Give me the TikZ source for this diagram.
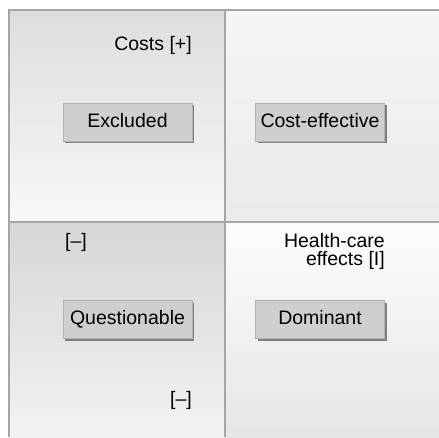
\documentclass[tikz,border=0pt]{standalone}
\usepackage{fontspec}
\setmainfont{Liberation Sans}
\usetikzlibrary{shadows}

\begin{document}
\begin{tikzpicture}[x=1pt,y=-1pt,
  every node/.style={font=\fontsize{19.5}{18}\selectfont},
  field/.style={draw=none},
  frame/.style={draw=black!35,line width=1.6pt},
  category/.style={rectangle,draw=black!30,fill=black!19,line width=0.6pt,
    minimum width=129pt,minimum height=38pt,inner sep=0pt,
    text height=14pt,text depth=4pt,
    drop shadow={shadow xshift=2.2pt,shadow yshift=-2.2pt,fill=black!50,opacity=1}}]
\useasboundingbox (0,0) rectangle (439,437);
\fill[white] (0,0) rectangle (439,437);
% First the four quadrants, each with its own shading:
\shade[field,top color=black!13,bottom color=black!3] (9,10) rectangle (225,222);
\shade[field,top color=black!4,bottom color=black!8] (225,10) rectangle (439,222);
\shade[field,top color=black!16,bottom color=black!5] (9,222) rectangle (225,437);
\shade[field,top color=black!1,bottom color=black!10] (225,222) rectangle (439,437);
% The frame and the two axes:
\draw[frame] (439,10) -- (9,10) -- (9,437);
\draw[frame] (225,10) -- (225,437);
\draw[frame] (9,222) -- (439,222);
% Now the four categories:
\foreach \name/\text/\x/\y in {excluded/Excluded/127.5/122,
  costeffective/Cost-effective/320/122,
  questionable/Questionable/127.5/319.5,
  dominant/Dominant/320/319.5}
{
\node [category] (\name) at (\x,\y) {\text};
}
% and the axis labels:
\node [anchor=east,inner sep=0pt] (costs plus) at (192,45) {Costs [+]};
\node [anchor=west,inner sep=0pt] (costs minus) at (65,242) {[--]};
\node [anchor=east,inner sep=0pt,align=right] (effects plus) at (385,251)
{Health-care\\effects [I]};
\node [anchor=east,inner sep=0pt] (effects minus) at (192,400) {[--]};
\end{tikzpicture}
\end{document}
